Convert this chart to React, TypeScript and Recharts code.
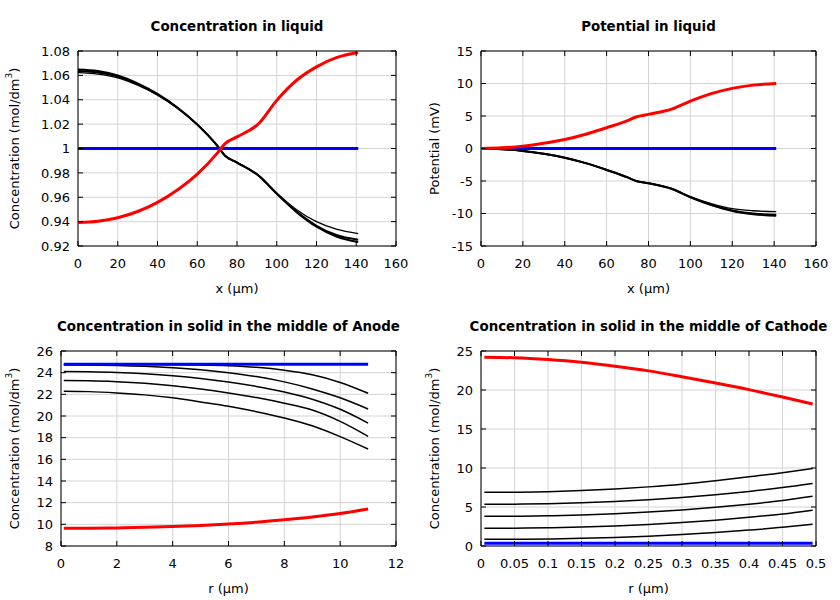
import React from "react";
import {
  LineChart,
  Line,
  XAxis,
  YAxis,
  CartesianGrid,
  ReferenceArea,
} from "recharts";

// ---- liquid phase, x in µm ----
const liqX = [0, 10, 20, 30, 40, 50, 60, 70, 74, 80, 91, 100, 110, 120, 130, 141];
const liqConcRed = [0.9393, 0.9403, 0.9432, 0.9483, 0.9558, 0.966, 0.979, 0.996, 1.004, 1.0095, 1.0205, 1.0395, 1.056, 1.067, 1.0745, 1.0787];
const liqConcBlue = [1, 1, 1, 1, 1, 1, 1, 1, 1, 1, 1, 1, 1, 1, 1, 1];
const liqConcA = [1.0622, 1.061, 1.058, 1.052, 1.0438, 1.0331, 1.0195, 1.0024, 0.9941, 0.9886, 0.9778, 0.9636, 0.9498, 0.94, 0.9338, 0.9302];
const liqConcB = [1.0635, 1.0623, 1.059, 1.0528, 1.0443, 1.0334, 1.0196, 1.0024, 0.994, 0.9885, 0.9776, 0.963, 0.9482, 0.9366, 0.929, 0.9252];
const liqConcC = [1.0648, 1.0635, 1.06, 1.0535, 1.0448, 1.0337, 1.0198, 1.0025, 0.994, 0.9885, 0.9775, 0.9628, 0.9478, 0.9358, 0.9278, 0.9232];

const potRed = [0, 0.1, 0.36, 0.8, 1.38, 2.2, 3.2, 4.3, 4.85, 5.25, 6.05, 7.3, 8.45, 9.25, 9.75, 10.0];
const potBlue = [0, 0, 0, 0, 0, 0, 0, 0, 0, 0, 0, 0, 0, 0, 0, 0];
const potA = [0, -0.1, -0.37, -0.82, -1.41, -2.24, -3.28, -4.43, -4.98, -5.33, -6.17, -7.4, -8.48, -9.25, -9.58, -9.72];
const potB = [0, -0.1, -0.37, -0.82, -1.42, -2.25, -3.3, -4.45, -5.0, -5.35, -6.2, -7.48, -8.65, -9.52, -10.0, -10.2];
const potC = [0, -0.1, -0.37, -0.82, -1.42, -2.25, -3.3, -4.45, -5.0, -5.35, -6.2, -7.5, -8.7, -9.6, -10.1, -10.35];

// ---- anode particle, r in µm ----
const anodeR = [0.1, 1, 2, 3, 4, 5, 6, 7, 8, 9, 10, 11];
const anodeRed = [9.63, 9.64, 9.67, 9.72, 9.8, 9.9, 10.03, 10.2, 10.42, 10.68, 11.0, 11.42];
const anodeBlue = [24.78, 24.78, 24.78, 24.78, 24.78, 24.78, 24.78, 24.78, 24.78, 24.78, 24.78, 24.78];
const anodeK1 = [24.76, 24.76, 24.76, 24.75, 24.74, 24.71, 24.64, 24.49, 24.22, 23.8, 23.1, 22.1];
const anodeK2 = [24.72, 24.71, 24.67, 24.59, 24.46, 24.27, 24.0, 23.64, 23.15, 22.5, 21.68, 20.65];
const anodeK3 = [24.1, 24.08, 24.02, 23.9, 23.72, 23.47, 23.14, 22.73, 22.22, 21.55, 20.62, 19.35];
const anodeK4 = [23.28, 23.26, 23.17, 23.02, 22.8, 22.5, 22.13, 21.7, 21.18, 20.55, 19.5, 18.12];
const anodeK5 = [22.28, 22.25, 22.13, 21.95, 21.68, 21.3, 20.9, 20.4, 19.82, 19.1, 18.1, 16.95];

// ---- cathode particle, r in µm ----
const cathR = [0.005, 0.05, 0.1, 0.15, 0.2, 0.25, 0.3, 0.35, 0.4, 0.45, 0.495];
const cathRed = [24.2, 24.13, 23.9, 23.55, 23.05, 22.45, 21.7, 20.9, 20.05, 19.1, 18.2];
const cathBlue = [0.35, 0.35, 0.35, 0.35, 0.35, 0.35, 0.35, 0.35, 0.35, 0.35, 0.35];
const cathK1 = [6.88, 6.9, 6.97, 7.1, 7.3, 7.58, 7.93, 8.37, 8.87, 9.4, 9.95];
const cathK2 = [5.34, 5.36, 5.42, 5.53, 5.7, 5.93, 6.22, 6.58, 7.0, 7.5, 8.03];
const cathK3 = [3.8, 3.82, 3.88, 3.98, 4.14, 4.35, 4.62, 4.96, 5.36, 5.83, 6.37];
const cathK4 = [2.26, 2.28, 2.33, 2.42, 2.56, 2.75, 3.0, 3.31, 3.68, 4.11, 4.6];
const cathK5 = [0.85, 0.86, 0.9, 0.98, 1.1, 1.26, 1.47, 1.73, 2.04, 2.39, 2.78];

// ---- ticks ----
const liqXTicks = [0, 20, 40, 60, 80, 100, 120, 140, 160];
const liqConcTicks = [0.92, 0.94, 0.96, 0.98, 1.0, 1.02, 1.04, 1.06, 1.08];
const potTicks = [-15, -10, -5, 0, 5, 10, 15];
const anodeXTicks = [0, 2, 4, 6, 8, 10, 12];
const anodeYTicks = [8, 10, 12, 14, 16, 18, 20, 22, 24, 26];
const cathXTicks = [0, 0.05, 0.1, 0.15, 0.2, 0.25, 0.3, 0.35, 0.4, 0.45, 0.5];
const cathYTicks = [0, 5, 10, 15, 20, 25];

const FONT = "DejaVu Sans";
const W = 420;
const H = 300;
const TOP = 51;
const RIGHT = 24;
const XAXIS_H = 54;
const PLOT_H = H - TOP - XAXIS_H;

const fmt = (v: number) => String(Number(v.toFixed(2)));

const toRows = (xs: number[], series: number[][]) =>
  xs.map((x, i) => {
    const row: Record<string, number> = { x };
    series.forEach((s, j) => {
      row["s" + j] = s[i];
    });
    return row;
  });

interface PanelProps {
  left: number;
  top: number;
  plotLeft: number;
  title: string;
  xLabel: string;
  yLabel: React.ReactNode;
  xs: number[];
  red: number[];
  blue: number[];
  blacks: number[][];
  blackWidths: number[];
  xDomain: [number, number];
  yDomain: [number, number];
  xTicks: number[];
  yTicks: number[];
}

const Panel = (p: PanelProps) => {
  const plotW = W - p.plotLeft - RIGHT;
  const data = toRows(p.xs, [p.red, p.blue, ...p.blacks]);

  // inward tick marks on both bottom and top edges, label underneath
  const xTick = (t: any) => (
    <g>
      <line x1={t.x} x2={t.x} y1={t.y} y2={t.y - 5} stroke="#000" />
      <line x1={t.x} x2={t.x} y1={t.y - PLOT_H} y2={t.y - PLOT_H + 5} stroke="#000" />
      <text x={t.x} y={t.y + 21.5} textAnchor="middle" fontFamily={FONT} fontSize={13} fill="#000">
        {fmt(t.payload.value)}
      </text>
    </g>
  );

  const yTick = (t: any) => (
    <g>
      <line x1={t.x} x2={t.x + 5} y1={t.y} y2={t.y} stroke="#000" />
      <line x1={t.x + plotW} x2={t.x + plotW - 5} y1={t.y} y2={t.y} stroke="#000" />
      <text x={t.x - 8} y={t.y + 4.7} textAnchor="end" fontFamily={FONT} fontSize={13} fill="#000">
        {fmt(t.payload.value)}
      </text>
    </g>
  );

  const xTitle = (l: any) => {
    const vb = l.viewBox || { x: p.plotLeft, y: H - XAXIS_H, width: plotW };
    return (
      <text x={vb.x + vb.width / 2} y={vb.y + 47} textAnchor="middle" fontFamily={FONT} fontSize={13} fill="#000">
        {p.xLabel}
      </text>
    );
  };

  const yTitle = (l: any) => {
    const vb = l.viewBox || { x: 0, y: TOP, height: PLOT_H };
    const cx = vb.x + 14;
    const cy = vb.y + vb.height / 2;
    return (
      <text
        x={cx}
        y={cy}
        transform={`rotate(-90 ${cx} ${cy})`}
        textAnchor="middle"
        dominantBaseline="central"
        fontFamily={FONT}
        fontSize={13}
        fill="#000"
      >
        {p.yLabel}
      </text>
    );
  };

  return (
    <div style={{ position: "absolute", left: p.left, top: p.top, width: W, height: H }}>
      <div
        style={{
          position: "absolute",
          left: p.plotLeft - 60,
          width: plotW + 120,
          top: 19,
          textAlign: "center",
          fontFamily: FONT,
          fontWeight: "bold",
          fontSize: 13.4,
          lineHeight: "16px",
          whiteSpace: "nowrap",
          color: "#000",
        }}
      >
        {p.title}
      </div>
      <LineChart width={W} height={H} data={data} margin={{ top: TOP, right: RIGHT, bottom: 0, left: 0 }}>
        <CartesianGrid stroke="#d4d4d4" strokeWidth={1} />
        <XAxis
          dataKey="x"
          type="number"
          domain={p.xDomain}
          ticks={p.xTicks}
          interval={0}
          height={XAXIS_H}
          axisLine={false}
          tickLine={false}
          tickSize={0}
          tickMargin={0}
          tick={xTick}
          label={xTitle}
        />
        <YAxis
          type="number"
          domain={p.yDomain}
          ticks={p.yTicks}
          interval={0}
          width={p.plotLeft}
          axisLine={false}
          tickLine={false}
          tickSize={0}
          tickMargin={0}
          tick={yTick}
          label={yTitle}
        />
        <ReferenceArea
          x1={p.xDomain[0]}
          x2={p.xDomain[1]}
          y1={p.yDomain[0]}
          y2={p.yDomain[1]}
          fill="none"
          fillOpacity={0}
          stroke="#000"
          strokeWidth={1}
        />
        {p.blacks.map((_, j) => (
          <Line
            key={j}
            dataKey={"s" + (j + 2)}
            type="monotone"
            stroke="#000"
            strokeWidth={p.blackWidths[j]}
            dot={false}
            isAnimationActive={false}
          />
        ))}
        <Line dataKey="s1" type="monotone" stroke="#0000ff" strokeWidth={3} dot={false} isAnimationActive={false} />
        <Line dataKey="s0" type="monotone" stroke="#ff0000" strokeWidth={3} dot={false} isAnimationActive={false} />
      </LineChart>
    </div>
  );
};

const concLabel = (
  <>
    Concentration (mol/dm
    <tspan dy={-5} fontSize={9}>3</tspan>
    <tspan dy={5}>)</tspan>
  </>
);

export default function App() {
  return (
    <div style={{ position: "absolute", left: 0, top: 0, width: 840, height: 600, background: "#fff" }}>
      <Panel
        left={0}
        top={0}
        plotLeft={78}
        title="Concentration in liquid"
        xLabel="x (µm)"
        yLabel={concLabel}
        xs={liqX}
        red={liqConcRed}
        blue={liqConcBlue}
        blacks={[liqConcA, liqConcB, liqConcC]}
        blackWidths={[1.3, 2, 2]}
        xDomain={[0, 160]}
        yDomain={[0.92, 1.08]}
        xTicks={liqXTicks}
        yTicks={liqConcTicks}
      />
      <Panel
        left={420}
        top={0}
        plotLeft={61}
        title="Potential in liquid"
        xLabel="x (µm)"
        yLabel="Potential (mV)"
        xs={liqX}
        red={potRed}
        blue={potBlue}
        blacks={[potA, potB, potC]}
        blackWidths={[1.3, 2, 2]}
        xDomain={[0, 160]}
        yDomain={[-15, 15]}
        xTicks={liqXTicks}
        yTicks={potTicks}
      />
      <Panel
        left={0}
        top={300}
        plotLeft={61}
        title="Concentration in solid in the middle of Anode"
        xLabel="r (µm)"
        yLabel={concLabel}
        xs={anodeR}
        red={anodeRed}
        blue={anodeBlue}
        blacks={[anodeK1, anodeK2, anodeK3, anodeK4, anodeK5]}
        blackWidths={[1.5, 1.5, 1.5, 1.5, 1.5]}
        xDomain={[0, 12]}
        yDomain={[8, 26]}
        xTicks={anodeXTicks}
        yTicks={anodeYTicks}
      />
      <Panel
        left={420}
        top={300}
        plotLeft={61}
        title="Concentration in solid in the middle of Cathode"
        xLabel="r (µm)"
        yLabel={concLabel}
        xs={cathR}
        red={cathRed}
        blue={cathBlue}
        blacks={[cathK1, cathK2, cathK3, cathK4, cathK5]}
        blackWidths={[1.5, 1.5, 1.5, 1.5, 1.5]}
        xDomain={[0, 0.5]}
        yDomain={[0, 25]}
        xTicks={cathXTicks}
        yTicks={cathYTicks}
      />
    </div>
  );
}
